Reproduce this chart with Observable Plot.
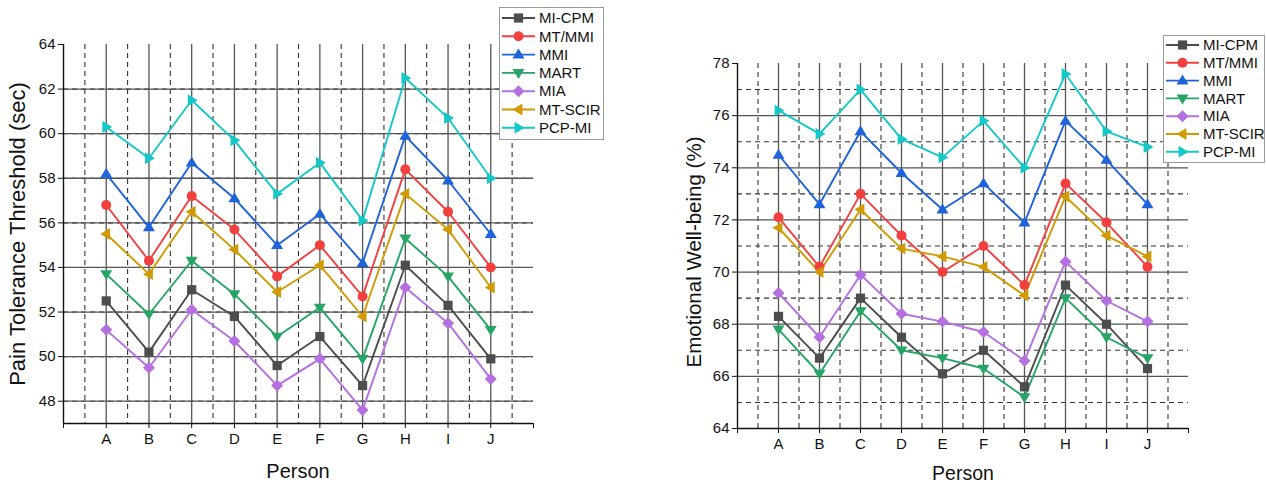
<!DOCTYPE html>
<html><head><meta charset="utf-8">
<script src="https://cdn.jsdelivr.net/npm/d3@7"></script>
<script src="https://cdn.jsdelivr.net/npm/@observablehq/plot@0.6"></script>
<style>
body{margin:0;background:#fff;font-family:"Liberation Sans",Arial,sans-serif;}
#wrap{position:relative;width:1266px;height:489px;overflow:hidden;background:#fff;}
.chart{position:absolute;top:0;}
.ylab{position:absolute;transform:translate(-50%,-50%) rotate(-90deg);white-space:nowrap;color:#111;line-height:1;}
.xlab{position:absolute;transform:translate(-50%,-50%);white-space:nowrap;color:#111;line-height:1;}
.legend{position:absolute;}
</style></head>
<body><div id="wrap"></div>
<script>
// ---------- data ----------
const persons = ["A","B","C","D","E","F","G","H","I","J"];
const seriesNames = ["MI-CPM","MT/MMI","MMI","MART","MIA","MT-SCIR","PCP-MI"];
const seriesColors = ["#4d4d4d","#f43f3f","#1f63db","#27a567","#b46fe0","#d09a00","#14c8c8"];

// Pain Tolerance Threshold (sec)
const painMiCpm  = [52.5,50.2,53.0,51.8,49.6,50.9,48.7,54.1,52.3,49.9];
const painMtMmi  = [56.8,54.3,57.2,55.7,53.6,55.0,52.7,58.4,56.5,54.0];
const painMmi    = [58.2,55.8,58.7,57.1,55.0,56.4,54.2,59.9,57.9,55.5];
const painMart   = [53.7,51.9,54.3,52.8,50.9,52.2,49.9,55.3,53.6,51.2];
const painMia    = [51.2,49.5,52.1,50.7,48.7,49.9,47.6,53.1,51.5,49.0];
const painMtScir = [55.5,53.7,56.5,54.8,52.9,54.1,51.8,57.3,55.7,53.1];
const painPcpMi  = [60.3,58.9,61.5,59.7,57.3,58.7,56.1,62.5,60.7,58.0];

// Emotional Well-being (%)
const wellMiCpm  = [68.3,66.7,69.0,67.5,66.1,67.0,65.6,69.5,68.0,66.3];
const wellMtMmi  = [72.1,70.2,73.0,71.4,70.0,71.0,69.5,73.4,71.9,70.2];
const wellMmi    = [74.5,72.6,75.4,73.8,72.4,73.4,71.9,75.8,74.3,72.6];
const wellMart   = [67.8,66.1,68.5,67.0,66.7,66.3,65.2,69.0,67.5,66.7];
const wellMia    = [69.2,67.5,69.9,68.4,68.1,67.7,66.6,70.4,68.9,68.1];
const wellMtScir = [71.7,70.0,72.4,70.9,70.6,70.2,69.1,72.9,71.4,70.6];
const wellPcpMi  = [76.2,75.3,77.0,75.1,74.4,75.8,74.0,77.6,75.4,74.8];

const painSeries = [painMiCpm,painMtMmi,painMmi,painMart,painMia,painMtScir,painPcpMi];
const wellSeries = [wellMiCpm,wellMtMmi,wellMmi,wellMart,wellMia,wellMtScir,wellPcpMi];

const painTicks = [48,50,52,54,56,58,60,62,64];
const wellTicks = [64,66,68,70,72,74,76,78];

// ---------- marker symbols ----------
function tri(dir, h){
  return {draw(ctx){
    const a = h, b = h*1.15;
    let pts;
    if(dir==="up") pts=[[0,-a*1.15],[b,a*0.75],[-b,a*0.75]];
    else if(dir==="down") pts=[[0,a*1.15],[b,-a*0.75],[-b,-a*0.75]];
    else if(dir==="left") pts=[[-a*1.15,0],[a*0.75,b],[a*0.75,-b]];
    else pts=[[a*1.15,0],[-a*0.75,b],[-a*0.75,-b]];
    ctx.moveTo(pts[0][0],pts[0][1]);ctx.lineTo(pts[1][0],pts[1][1]);ctx.lineTo(pts[2][0],pts[2][1]);ctx.closePath();
  }};
}
const symSquare = {draw(ctx){const s=4.6;ctx.moveTo(-s,-s);ctx.lineTo(s,-s);ctx.lineTo(s,s);ctx.lineTo(-s,s);ctx.closePath();}};
const symCircle = {draw(ctx){const r=5;ctx.moveTo(r,0);ctx.arc(0,0,r,0,2*Math.PI);}};
const symDiamond = {draw(ctx){const s=6;ctx.moveTo(0,-s);ctx.lineTo(s,0);ctx.lineTo(0,s);ctx.lineTo(-s,0);ctx.closePath();}};
const seriesSymbols = [symSquare,symCircle,tri("up",5.2),tri("down",5.2),symDiamond,tri("left",5.2),tri("right",5.2)];

// ---------- chart builder ----------
function buildChart(opts){
  const {series, yDomain, yTicks, width, height, ml, mr, mt, mb} = opts;
  const yMinor = d3.range(yDomain[0]+1, yDomain[1], 2);
  const yMajor = yTicks.filter(v => v > yDomain[0] && v < yDomain[1]);
  const xMajor = d3.range(1, 11);
  const xMinor = d3.range(0.5, 11, 1);
  const marks = [
    Plot.ruleY(yMinor, {stroke:"#333", strokeWidth:1.1, strokeDasharray:"5,4"}),
    Plot.ruleX(xMinor, {stroke:"#333", strokeWidth:1.1, strokeDasharray:"5,4"}),
    Plot.ruleY(yMajor, {stroke:"#555", strokeWidth:1.3}),
    Plot.ruleX(xMajor, {stroke:"#555", strokeWidth:1.3}),
    Plot.axisY({ticks: yTicks, tickSize:5, tickPadding:3, fontSize:15, label:null, stroke:"#111"}),
    Plot.axisX({ticks: xMajor, tickFormat: i => persons[i-1], tickSize:5, tickPadding:5, fontSize:15, label:null, stroke:"#111"}),
    Plot.axisX({ticks: [0, 11], tickFormat: () => "", tickSize:5, label:null, stroke:"#111"}),
    Plot.ruleX([0], {stroke:"#111", strokeWidth:1.4}),
    Plot.ruleY([yDomain[0]], {stroke:"#111", strokeWidth:1.4})
  ];
  series.forEach((vals, k) => {
    const data = persons.map((p, i) => ({x: i + 1, y: vals[i]}));
    marks.push(Plot.line(data, {x:"x", y:"y", stroke: seriesColors[k], strokeWidth:1.9}));
  });
  series.forEach((vals, k) => {
    const data = persons.map((p, i) => ({x: i + 1, y: vals[i]}));
    marks.push(Plot.dot(data, {x:"x", y:"y", fill: seriesColors[k], stroke:"none", symbol: seriesSymbols[k], r:5}));
  });
  return Plot.plot({
    width, height,
    marginLeft: ml, marginRight: mr, marginTop: mt, marginBottom: mb,
    x: {domain:[0, 11], axis:null},
    y: {domain: yDomain, axis:null},
    style: {fontFamily:"Liberation Sans, Arial, sans-serif", color:"#111", background:"transparent", overflow:"visible"},
    marks
  });
}

function buildLegend(left, top, w, h, rowStart, rowStep){
  const div = document.createElement("div");
  div.className = "legend";
  div.style.left = left + "px"; div.style.top = top + "px";
  const svg = d3.create("svg").attr("width", w).attr("height", h);
  svg.append("rect").attr("x",0.5).attr("y",0.5).attr("width",w-1).attr("height",h-1)
     .attr("fill","#fff").attr("stroke","#9a9a9a").attr("stroke-width",1);
  seriesNames.forEach((name, k) => {
    const cy = rowStart + k*rowStep;
    svg.append("line").attr("x1",3).attr("x2",36).attr("y1",cy).attr("y2",cy)
       .attr("stroke",seriesColors[k]).attr("stroke-width",1.9);
    svg.append("path").attr("d", d3.symbol(seriesSymbols[k])()).attr("transform",`translate(19.5,${cy})`)
       .attr("fill",seriesColors[k]);
    svg.append("text").attr("x",40).attr("y",cy).attr("dy","0.35em")
       .attr("font-size",15).attr("font-family","Liberation Sans, Arial, sans-serif").attr("fill","#111").text(name);
  });
  div.appendChild(svg.node());
  return div;
}

const wrap = document.getElementById("wrap");

const left = buildChart({series: painSeries, yDomain:[47,64], yTicks: painTicks,
  width:620, height:489, ml:63, mr:87, mt:44, mb:66});
left.classList.add("chart"); left.style.left = "0px";
wrap.appendChild(left);

const right = buildChart({series: wellSeries, yDomain:[64,78], yTicks: wellTicks,
  width:640, height:489, ml:111, mr:78, mt:63, mb:61});
right.classList.add("chart"); right.style.left = "626px";
wrap.appendChild(right);

function addLabel(cls, text, x, y, size){
  const d = document.createElement("div"); d.className = cls; d.textContent = text;
  d.style.left = x + "px"; d.style.top = y + "px"; d.style.fontSize = size + "px"; wrap.appendChild(d);
}
addLabel("ylab", "Pain Tolerance Threshold (sec)", 18, 234, 22);
addLabel("xlab", "Person", 298, 471, 20);
addLabel("ylab", "Emotional Well-being (%)", 694, 252, 20.5);
addLabel("xlab", "Person", 963, 474, 19.5);

wrap.appendChild(buildLegend(499, 7, 105, 133, 11, 18.3));
wrap.appendChild(buildLegend(1163, 35, 102, 128, 10, 17.8));
</script>
</body></html>
